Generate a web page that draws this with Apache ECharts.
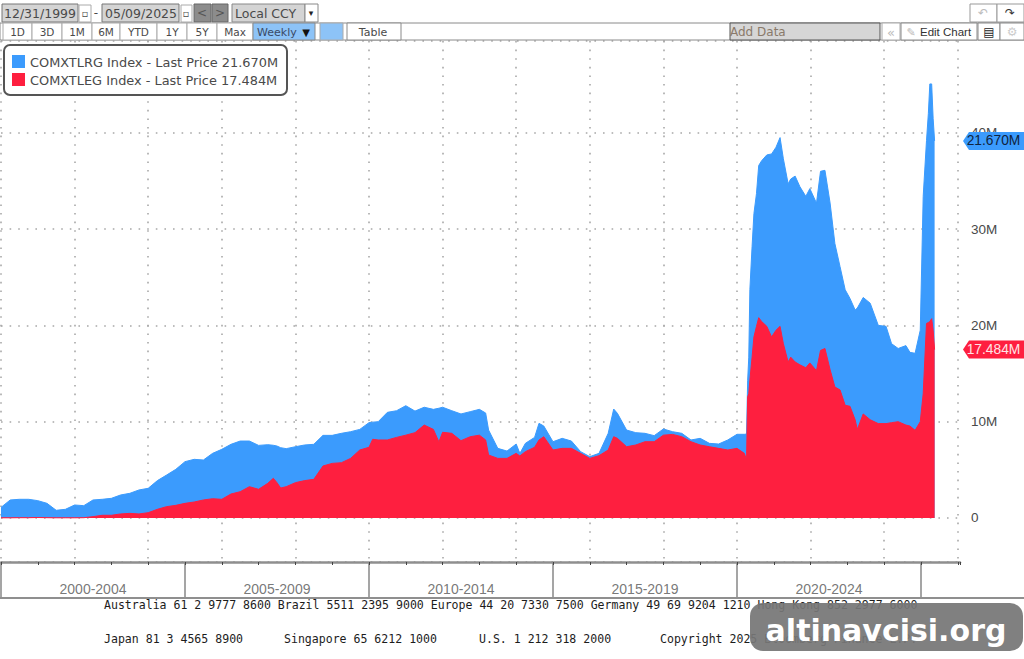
<!DOCTYPE html>
<html>
<head>
<meta charset="utf-8">
<title>COMEX large and leveraged positions</title>
<style>html,body{margin:0;padding:0;background:#fff}#chart{width:1024px;height:659px}</style>
<script src="https://cdn.jsdelivr.net/npm/echarts@6/dist/echarts.min.js"></script>
</head>
<body>
<div id="chart"></div>
<script>
// Sample dates as decimal years
const dates = [
2000,2000.25,2000.5,2000.75,2001,2001.25,2001.5,2001.75,2002,2002.25,2002.5,2002.75,2003,2003.25,2003.5,2003.75,
2004,2004.25,2004.5,2004.75,2005,2005.25,2005.5,2005.75,2006,2006.25,2006.5,2006.75,2007,2007.25,2007.4,2007.5,2007.6,2007.75,
2008,2008.25,2008.5,2008.75,2009,2009.25,2009.5,2009.75,2010,2010.1,2010.25,2010.5,2010.75,2011,2011.25,2011.5,2011.75,2011.9,
2012,2012.25,2012.5,2012.75,2013,2013.17,2013.25,2013.5,2013.75,2014,2014.1,2014.25,2014.5,2014.62,2014.75,2015,2015.25,2015.5,2015.75,
2016,2016.25,2016.5,2016.65,2016.75,2017,2017.25,2017.5,2017.75,2018,2018.25,2018.5,2018.75,2019,2019.25,2019.5,2019.75,
2020,2020.2,2020.26,2020.29,2020.32,2020.35,2020.41,2020.46,2020.53,2020.59,2020.67,2020.81,2020.94,2021.06,2021.17,2021.26,
2021.39,2021.46,2021.58,2021.71,2021.87,2021.98,2022.16,2022.27,2022.39,2022.53,2022.66,2022.8,2022.94,2023.07,2023.21,2023.27,
2023.43,2023.62,2023.84,2024.05,2024.2,2024.38,2024.59,2024.7,2024.84,2024.98,2025.06,2025.15,2025.2,2025.24,2025.29,2025.33,2025.37
];
// COMXTLEG Index, millions
const legValues = [
.02,.02,.03,.03,.05,.03,.02,.02,.02,.03,.14,.28,.28,.42,.48,.42,
.55,.9,1.18,1.31,1.52,1.66,1.87,2,1.94,2.49,2.73,3.25,2.98,3.6,4.12,3.67,3.11,3.25,
3.67,3.88,4.01,5.4,5.67,5.74,6.19,7.06,7.34,8.17,8.1,8.1,8.37,8.6,8.86,9.65,9.2,7.9,
8.9,8.79,8.03,8.44,8.6,8.1,6.54,6.19,6.19,6.71,6.44,6.89,7.34,8.1,8.44,7.06,7.23,7.23,6.71,
6.19,6.47,7.06,8.44,8.27,7.4,7.58,7.92,7.92,8.6,8.68,8.44,7.92,7.58,7.4,7.23,7.06,
7.23,6.71,6.02,12.6,12.9,14.3,16.7,18.8,19.9,20.8,20.4,19.9,18.8,19.5,19.9,18.1,
16.2,16.7,16.2,15.9,15.6,16.1,15.3,17.4,17.6,15.4,13.6,13.3,11.7,11.6,10.2,9.2,
10.8,10.2,9.8,9.8,9.9,10,9.65,9.55,9.1,10,12.9,20.2,20.3,20.4,20.7,19.5,17.484
];
// COMXTLRG Index, millions
const lrgValues = [
1.08,1.85,1.91,1.91,1.75,1.49,.78,.88,1.33,1.25,1.73,1.66,1.76,1.97,2.08,2.49,
2.53,2.98,3.28,3.74,4.33,4.43,4.15,4.71,5.19,5.16,5.26,4.74,4.56,4.01,3.43,3.8,4.19,3.95,
3.73,3.7,3.64,3.18,2.91,3.05,2.77,2.14,2.56,1.78,1.9,2.87,2.77,3.06,2.24,1.85,2.08,3.5,
2.6,2.35,2.77,2.6,2.68,2.8,2.59,1.04,.76,.97,.27,.86,1.03,1.73,1.11,.86,1.04,.76,.18,
.18,.24,1.73,2.87,2.6,1.73,1.28,.87,.63,.64,.28,.35,.18,.69,.35,.45,1.04,
1.46,1.98,2.7,1.7,3.8,9.4,11.5,12.8,13.8,15.8,16.7,17.8,19,19,19.6,19.2,
18.5,18.5,19.3,18.5,17.8,18.1,17.4,18.6,18.5,17.3,14.9,12.8,12,11.2,11.4,12.6,
12.1,12.1,10.2,10.1,8.2,7.6,8.25,7.65,8,9.5,20.5,19,21.7,24.67,24.37,22,21.67
];
const bandStarts = [2000,2005,2010,2015,2020];
const bandLabels = ['2000-2004','2005-2009','2010-2014','2015-2019','2020-2024'];
const rowOneButtons = ['1D','3D','1M','6M','YTD','1Y','5Y','Max'];
const footerRowOne = 'Australia 61 2 9777 8600 Brazil 5511 2395 9000 Europe 44 20 7330 7500 Germany 49 69 9204 1210 Hong Kong 852 2977 6000';
const footerRowTwo = ['Japan 81 3 4565 8900','Singapore 65 6212 1000','U.S. 1 212 318 2000','Copyright 2025 Bloomberg Finance L.P.'];

const BLUE = '#3b9bfd', RED = '#fe1f3f', DOT = '#a8a8a8', RULE = '#8f8f8f', INK = '#4a4a4a';
const UI_FONT = '"DejaVu Sans"', AXIS_FONT = '"Liberation Sans"', MONO = '"DejaVu Sans Mono"';
const xMin = 2000, xMax = 2026.06, yMin = -4.57, yMax = 49.53;
const lastLeg = legValues[legValues.length - 1];
const lastLrg = lrgValues[lrgValues.length - 1];
const fmtM = v => v.toFixed(3) + 'M';

// Toolbar and overlay primitives
const box = (x, y, w, h, fill, stroke, extra) => Object.assign({
  type: 'rect', shape: {x, y, width: w, height: h, r: (extra && extra.r) || 0},
  style: {fill: fill || '#fff', stroke: stroke || null, lineWidth: (extra && extra.lw) || 1}, z: 20, silent: true
});
const txt = (x, y, text, o) => { o = o || {}; return {
  type: 'text', x, y, z: o.z || 21, silent: true,
  style: {text, fill: o.fill || INK, font: (o.weight || '') + ' ' + (o.size || 12) + 'px ' + (o.family || UI_FONT),
          align: o.align || 'left', verticalAlign: 'middle',
          textShadowColor: o.shadowColor, textShadowOffsetX: o.sx, textShadowOffsetY: o.sy, textShadowBlur: o.sb}
};};

const buttonEdges = [3,32,62,92,120,157,187,217,253];
const graphics = [
  // date range row
  box(2,4,76,18,'#d4d4d4','#777'), txt(40,13,'12/31/1999',{align:'center',size:12.5}),
  box(79,5,12,17,'#fff','#aaa'), txt(85,13,'▫',{align:'center',size:10}),
  txt(96,13,'-',{align:'center'}),
  box(102,4,77,18,'#d4d4d4','#777'), txt(141,13,'05/09/2025',{align:'center',size:12.5}),
  box(181,5,11,17,'#fff','#aaa'), txt(186,13,'▫',{align:'center',size:10}),
  box(194,4,17,18,'#8c8c8c','#666'), txt(202,13,'<',{align:'center',fill:'#555'}),
  box(212,4,16,18,'#8c8c8c','#666'), txt(220,13,'>',{align:'center',fill:'#555'}),
  box(232,4,73,18,'#d4d4d4','#888'), txt(235,13,'Local CCY',{size:12.5}),
  box(305,4,13,18,'#fff','#888'), txt(311,13,'▾',{align:'center',size:9,fill:'#222'}),
  box(970,4,27,18,'#fff','#999'), txt(983,13,'↶',{align:'center',fill:'#bbb',size:12}),
  box(997,4,27,18,'#fff','#999'), txt(1010,13,'↷',{align:'center',fill:'#333',size:12}),
  // period row
  box(0,23,1024,17,'#fff','#8a8a8a')
];
rowOneButtons.forEach((label, i) => {
  const l = buttonEdges[i], r = buttonEdges[i + 1];
  graphics.push(box(l,23,r - l,17,'#fff','#aaa'), txt((l + r) / 2,32,label,{align:'center',size:10.5}));
});
graphics.push(
  box(253,23,62,17,'#8dc3f7','#8a8a8a'), txt(257,32,'Weekly',{size:11,fill:'#3a4a66'}), txt(306,32,'▼',{align:'center',size:10,fill:'#111'}),
  box(320,23,23,17,'#8dc3f7','#aaa'),
  box(347,23,54,17,'#fff','#8a8a8a'), txt(373,32,'Table',{align:'center',size:11}),
  box(730,23,150,17,'#d6d6d6','#555'), txt(730,32,'Add Data',{size:12,fill:'#8a7a6a'}),
  box(882,23,18,17,'#fff','#aaa'), txt(891,32,'«',{align:'center',fill:'#bbb',size:13}),
  box(901,23,76,17,'#fff','#8a8a8a'), txt(911,32,'✎',{align:'center',fill:'#bbb',size:11}), txt(920,32,'Edit Chart',{size:11.5,family:AXIS_FONT,fill:'#333'}),
  box(978,23,22,17,'#fff','#8a8a8a'), txt(989,32,'▤',{align:'center',fill:'#222',size:12}),
  box(1000,23,24,17,'#fff','#8a8a8a'), txt(1012,32,'⚙',{align:'center',fill:'#ccc',size:12}),
  // legend panel
  box(4,45,283,50,'#fff','#555',{r:6,lw:2}),
  box(12,55,13,13,BLUE), txt(30,62,'COMXTLRG Index - Last Price ' + fmtM(lastLrg),{size:12.9}),
  box(12,73,13,13,RED), txt(30,80,'COMXTLEG Index - Last Price ' + fmtM(lastLeg),{size:12.9}),
  // rule beneath the period bands
  {type:'line', z:3, silent:true, shape:{x1:0,y1:598,x2:1024,y2:598}, style:{stroke:RULE,lineWidth:2}},
  // contact footer
  txt(104,605,footerRowOne,{family:MONO,size:11.56,fill:'#1c1c1c'}),
  txt(104,639,footerRowTwo[0],{family:MONO,size:11.56,fill:'#1c1c1c'}),
  txt(284,639,footerRowTwo[1],{family:MONO,size:11.56,fill:'#1c1c1c'}),
  txt(479,639,footerRowTwo[2],{family:MONO,size:11.56,fill:'#1c1c1c'}),
  txt(660,639,footerRowTwo[3],{family:MONO,size:11.56,fill:'#1c1c1c'}),
  // site badge
  Object.assign(box(750,603,273,48,'rgba(118,118,118,0.93)',null,{r:13}),{z:30}),
  txt(886,630,'altinavcisi.org',{align:'center',size:30,weight:'bold',fill:'#fff',z:31,shadowColor:'#000',sx:2,sy:2,sb:0})
);

// Pointer-shaped tag sitting on the value axis
const TAG = 'path://M0 9 L6 0 L61 0 L61 18 L6 18 Z';
const tagPoint = (value, shown, textColor, fill) => ({
  symbol: TAG, symbolSize: [61,18], symbolOffset: [33.5,0], symbolKeepAspect: false, silent: true,
  itemStyle: {color: fill},
  label: {show:true, position:'inside', formatter: fmtM(shown), color:textColor, fontFamily:AXIS_FONT, fontSize:13.8},
  data: [{coord:[xMax, value]}]
});

// Filled profile; the long series sits on top of the leveraged one
const areaSeries = (name, values, color, tag, z) => ({
  name, type:'line', xAxisIndex:0, yAxisIndex:0, symbol:'none', smooth:false, z,
  lineStyle:{color, width:1}, areaStyle:{color, opacity:1}, itemStyle:{color},
  data: dates.map((d, i) => [d, values[i]]), markPoint: tag
});
const combined = legValues.map((v, i) => v + lrgValues[i]);

const chart = echarts.init(document.getElementById('chart'), null, {renderer:'svg'});
chart.setOption({
  animation:false,
  backgroundColor:'#fff',
  grid:[
    {left:1, right:64, top:41, height:521},
    {left:1, right:64, top:562, height:36}
  ],
  xAxis:[
    {type:'value', gridIndex:0, min:xMin, max:xMax, interval:2, minorTick:{show:true,splitNumber:2,length:3,lineStyle:{color:'#444'}},
     axisLine:{onZero:false,lineStyle:{color:RULE,width:2.5}}, axisTick:{show:true,inside:false,length:3,lineStyle:{color:'#444'}},
     axisLabel:{show:false}, splitLine:{show:true,showMaxLine:false,lineStyle:{color:DOT,type:[1.6,7],width:1.6}}},
    {type:'value', gridIndex:1, min:xMin, max:xMax, interval:5,
     axisLine:{show:false}, axisTick:{show:false}, axisLabel:{show:false},
     splitLine:{show:true,showMaxLine:false,lineStyle:{color:RULE,width:1.6}}}
  ],
  yAxis:[
    {type:'value', gridIndex:0, position:'right', min:yMin, max:yMax, splitNumber:5,
     axisLine:{show:false}, axisTick:{show:false},
     axisLabel:{showMinLabel:false,showMaxLabel:false,margin:11,color:INK,fontFamily:AXIS_FONT,fontSize:13.5,
       formatter:v => v === 0 ? '0' : v + 'M'},
     splitLine:{show:true,lineStyle:{color:DOT,type:[1.6,7],width:1.6}}},
    {type:'value', gridIndex:1, min:0, max:1, show:false}
  ],
  series:[
    areaSeries('COMXTLRG Index', combined, BLUE, tagPoint(lastLeg + lastLrg, lastLrg, '#10243f', BLUE), 2),
    areaSeries('COMXTLEG Index', legValues, RED, tagPoint(lastLeg, lastLeg, '#ffe3e6', RED), 3),
    {type:'scatter', xAxisIndex:1, yAxisIndex:1, symbolSize:0, silent:true,
     data: bandStarts.map((s, i) => ({value:[s + 2.5, 0.25], label:{formatter:bandLabels[i]}})),
     label:{show:true, position:'inside', color:'#555', fontFamily:AXIS_FONT, fontSize:14}}
  ],
  graphic:graphics
});
</script>
</body>
</html>
